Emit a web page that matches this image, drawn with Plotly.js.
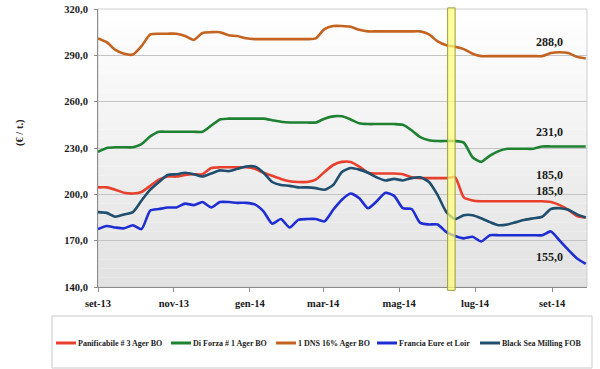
<!DOCTYPE html>
<html>
<head>
<meta charset="utf-8">
<script src="https://cdn.plot.ly/plotly-3.0.1.min.js"></script>
<style>html,body{margin:0;padding:0;background:#fff;}#chart{width:600px;height:369px;}</style>
</head>
<body>
<div id="chart"></div>
<script>
const dates = [
 '2013-09-01','2013-09-08','2013-09-15','2013-09-22','2013-09-29',
 '2013-10-06','2013-10-13','2013-10-20','2013-10-27',
 '2013-11-03','2013-11-10','2013-11-17','2013-11-24',
 '2013-12-01','2013-12-08','2013-12-15','2013-12-22','2013-12-29',
 '2014-01-05','2014-01-12','2014-01-19','2014-01-26',
 '2014-02-02','2014-02-09','2014-02-16','2014-02-23',
 '2014-03-02','2014-03-09','2014-03-16','2014-03-23','2014-03-30',
 '2014-04-06','2014-04-13','2014-04-20','2014-04-27',
 '2014-05-04','2014-05-11','2014-05-18','2014-05-25',
 '2014-06-01','2014-06-08','2014-06-15','2014-06-22','2014-06-29',
 '2014-07-06','2014-07-13','2014-07-20','2014-07-27',
 '2014-08-03','2014-08-10','2014-08-17','2014-08-24','2014-08-31',
 '2014-09-07','2014-09-14','2014-09-21','2014-09-28'
];

const panificabile = [204.5,204.5,203,201,200.5, 201.5,205.5,209.5,211.5, 211.5,212.5,213,213,
 217,217.5,217.5,217.5,217.5, 216.5,214,212,210, 208.5,208,208,209.5,
 214.5,219,221,221,218, 214,213.5,213.5,213.5, 213,211,210.5,210.5,
 210.5,210.5,211,198,196, 195.5,195.5,195.5,195.5, 195.5,195.5,195.5,195.5,195,
 193,190,186,185];

const diForza = [227.5,230,230.5,230.5,230.5, 232.5,237.5,240.5,240.5, 240.5,240.5,240.5,240.5,
 244.5,248.5,249,249,249, 249,249,248,247, 246.5,246.5,246.5,246.5,
 249,250.5,250.5,248.5,246, 245.5,245.5,245.5,245.5, 245,241.5,237,235,
 234.5,234.5,234.5,233.5,224, 221,225,228,229.5, 229.5,229.5,229.5,231,231,
 231,231,231,231];

const dns16 = [301,298.5,293.5,291,290.5, 296,303.5,304,304, 304,302.5,300,304.5,
 305,305,303,302.5,301, 300.5,300.5,300.5,300.5, 300.5,300.5,300.5,301,
 307,309,309,308.5,306.5, 305.5,305.5,305.5,305.5, 305.5,305.5,305.5,303.5,
 299,296.5,295.5,294,291, 289.5,289.5,289.5,289.5, 289.5,289.5,289.5,289.5,291.5,
 292,291.5,289,288];

const francia = [177.5,179.5,178.5,178,180, 177.5,189.5,190.5,191.5, 191.5,194,193,195,
 191.5,195,195,194.5,194.5, 193.5,189,181,184, 178.5,183.5,184,184,
 182.5,190,196.5,200.5,197.5, 191,195.5,201,199, 191,190.5,181.5,180.5,
 180.5,175.5,173,171.5,172.5, 169.5,173.5,173.5,173.5, 173.5,173.5,173.5,173.5,176,
 170,164,158.5,155];

const blackSea = [188.5,188,185.5,187,188.5, 196,203,208,212.5, 213,214,213,211.5,
 213.5,215.5,215,216.5,218, 218,214,208,206, 205.5,204.5,204.5,204,
 203,206,214.5,217,216, 214,211,209,210, 209,210.5,211,208,
 199.5,188.5,184,186.5,186.5, 184.5,182,180,180.5, 182,183.5,184.5,185.5,190.5,
 191,190,187,185];

const seriesNames = ['Panificabile # 3 Ager BO','Di Forza # 1 Ager BO','1 DNS 16% Ager BO','Francia Eure et Loir','Black Sea Milling FOB'];
const seriesValues = [panificabile, diForza, dns16, francia, blackSea];
const seriesColors = ['#E8402C','#1E8232','#C4621F','#1E2ED2','#1F4E6E'];

const tickDates = ['2013-09-01','2013-11-01','2014-01-01','2014-03-01','2014-05-01','2014-07-01','2014-09-01'];
const tickLabels = ['set-13','nov-13','gen-14','mar-14','mag-14','lug-14','set-14'];
const yTicks = [140,170,200,230,260,290,320];
const yTickLabels = ['140,0','170,0','200,0','230,0','260,0','290,0','320,0'];

const endLabels = ['288,0','231,0','185,0','185,0','155,0'];
const endLabelY = [298.8, 240.2, 212.7, 202.3, 159.3];

const serif = 'Liberation Serif, Times New Roman, serif';

const traces = seriesNames.map((n,i)=>({
  type:'scatter', mode:'lines', name:n, x:dates, y:seriesValues[i],
  line:{color:seriesColors[i], width:2.6, shape:'spline', smoothing:0.6},
  showlegend:false, hoverinfo:'x+y+name'
}));

// plot geometry in px for paper conversions
const L=98, R=13, T=9, B=82, W=600, H=369;
const pw = W-L-R, ph = H-T-B;
const px2paperX = p => (p-L)/pw;
const py2paperY = p => (H-B-p)/ph;

const shapes = [];
// gradient background bands
const nb = 30;
for(let k=0;k<nb;k++){
  const t = k/nb;
  const g = Math.round(226 + (255-226)*(t+0.5/nb));
  shapes.push({type:'rect', xref:'paper', yref:'paper', x0:0, x1:1, y0:t, y1:(k+1)/nb,
    fillcolor:`rgb(${g},${g},${g})`, line:{width:0}, layer:'below'});
}
// plot border top/right
shapes.push({type:'rect', xref:'paper', yref:'paper', x0:0, x1:1, y0:0, y1:1,
  line:{color:'#cfcfcf', width:1}, fillcolor:'rgba(0,0,0,0)', layer:'below'});
// yellow highlight bar
shapes.push({type:'rect', xref:'x', yref:'paper', x0:'2014-06-09', x1:'2014-06-15',
  y0:-0.012, y1:1.004, fillcolor:'rgba(255,255,120,0.72)', line:{color:'#9c9a3c', width:1}, layer:'above'});

// legend box
shapes.push({type:'rect', xref:'paper', yref:'paper', x0:px2paperX(52), x1:px2paperX(592),
  y0:py2paperY(368), y1:py2paperY(316), line:{color:'#c8c8c8', width:1}, fillcolor:'#ffffff'});
const legX = [56,171,276,377,480];
const legY = py2paperY(343);
const annotations = [];
seriesNames.forEach((n,i)=>{
  shapes.push({type:'line', xref:'paper', yref:'paper', x0:px2paperX(legX[i]), x1:px2paperX(legX[i]+20),
    y0:legY, y1:legY, line:{color:seriesColors[i], width:3}});
  annotations.push({xref:'paper', yref:'paper', x:px2paperX(legX[i]+20), y:legY, xanchor:'left', yanchor:'middle',
    text:n, showarrow:false, font:{family:serif, size:8, color:'#222', weight:'bold'}});
});

endLabels.forEach((t,i)=>{
  annotations.push({xref:'x', yref:'y', x:'2014-08-30', y:endLabelY[i], text:t, showarrow:false,
    xanchor:'center', yanchor:'middle', font:{family:serif, size:12, color:'#1a1a1a', weight:'bold'}});
});

annotations.push({xref:'paper', yref:'paper', x:px2paperX(12), y:py2paperY(133), text:'(€ / t.)',
  textangle:-90, showarrow:false, font:{family:serif, size:10.5, color:'#222', weight:'bold'}});

const layout = {
  width:W, height:H,
  margin:{l:L, r:R, t:T, b:B, pad:0},
  paper_bgcolor:'#ffffff', plot_bgcolor:'rgba(0,0,0,0)',
  showlegend:false,
  xaxis:{type:'date', range:['2013-09-01','2014-09-29'], tickvals:tickDates, ticktext:tickLabels,
    showgrid:false, zeroline:false, showline:true, linecolor:'#8c8c8c', linewidth:1,
    ticks:'outside', ticklen:4, tickcolor:'#8c8c8c', ticklabelstandoff:2,
    tickfont:{family:serif, size:10.5, color:'#1a1a1a', weight:'bold'}},
  yaxis:{range:[140,320], tickvals:yTicks, ticktext:yTickLabels,
    showgrid:true, gridcolor:'#c4c4c4', gridwidth:1, zeroline:false,
    showline:true, linecolor:'#8c8c8c', linewidth:1, ticks:'outside', ticklen:3, tickcolor:'#8c8c8c',
    ticklabelstandoff:4,
    tickfont:{family:serif, size:10.5, color:'#1a1a1a', weight:'bold'}},
  shapes:shapes,
  annotations:annotations
};

Plotly.newPlot('chart', traces, layout, {staticPlot:true, displayModeBar:false});
</script>
</body>
</html>
